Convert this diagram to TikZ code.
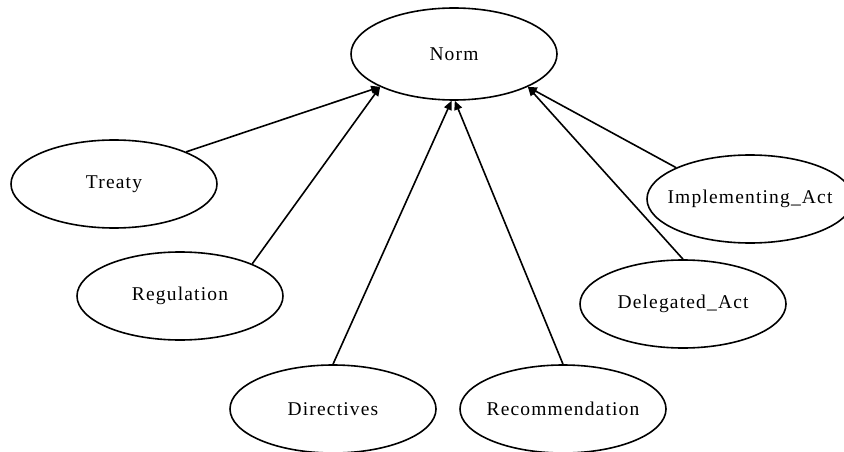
\documentclass[tikz,border=0pt]{standalone}
\usepackage{fontspec}
\setmainfont[LetterSpace=6]{Liberation Serif}
\usetikzlibrary{shapes.geometric,arrows.meta}
% label set in a zero-width box so that the ellipse keeps its fixed size
\newcommand\conceptlabel[1]{\makebox[0pt]{#1}}
\begin{document}
\begin{tikzpicture}[x=1pt,y=-1pt,
  concept/.style={ellipse,draw,line width=1.6pt,minimum width=206pt,minimum height=88pt,
    inner sep=0pt,font=\fontsize{19.5}{21}\selectfont},
  isa/.style={line width=1.6pt,-{Triangle[length=9pt,width=8pt]}}]
\useasboundingbox (0,0) rectangle (844,452);
\node[concept,minimum height=92pt] (norm) at (454,54) {\conceptlabel{Norm}};
\node[concept] (treaty) at (114,184) {\conceptlabel{Treaty}};
\node[concept] (regulation) at (180,296) {\conceptlabel{Regulation}};
\node[concept] (directives) at (333,409) {\conceptlabel{Directives}};
\node[concept] (recommendation) at (563,409) {\conceptlabel{Recommendation}};
\node[concept] (delegated) at (683,304) {\conceptlabel{Delegated\_Act}};
\node[concept] (implementing) at (750,199) {\conceptlabel{Implementing\_Act}};
\draw[isa] (treaty.24.7) -- (norm.204);
\draw[isa] (regulation.24) -- (norm.204);
\draw[isa] (directives.90) -- (norm.267);
\draw[isa] (recommendation.90) -- (norm.271);
\draw[isa] (delegated.90) -- (norm.336);
\draw[isa] (implementing.157) -- (norm.336);
\end{tikzpicture}
\end{document}
